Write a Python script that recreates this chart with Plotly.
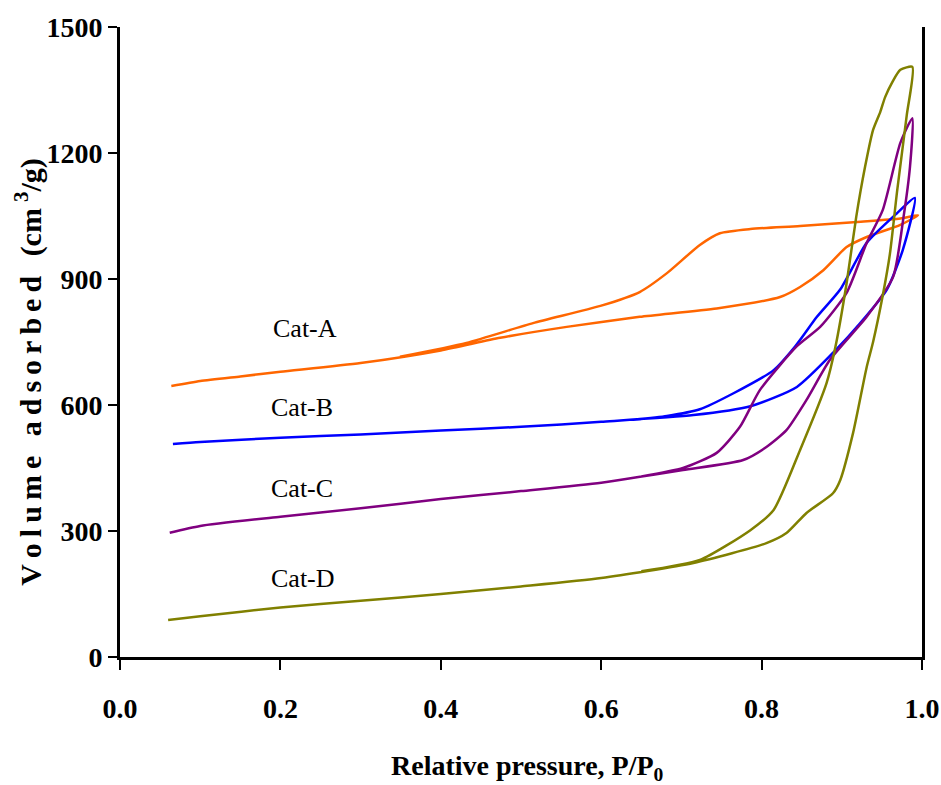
import plotly.graph_objects as go

# ---- data ----
cat_a_ads_x = [0.064, 0.1, 0.15, 0.2, 0.3, 0.4, 0.474, 0.557, 0.648, 0.744, 0.823, 0.848, 0.877, 0.906, 0.931, 0.973, 0.995]
cat_a_ads_y = [645, 657, 668, 679, 700, 730, 760, 786, 810, 830, 857, 881, 921, 976, 1000, 1029, 1052]
cat_a_des_x = [0.995, 0.973, 0.919, 0.848, 0.786, 0.748, 0.723, 0.682, 0.648, 0.599, 0.515, 0.432, 0.349]
cat_a_des_y = [1052, 1044, 1036, 1026, 1019, 1009, 981, 914, 869, 836, 795, 748, 715]

cat_b_ads_x = [0.066, 0.1, 0.2, 0.3, 0.4, 0.5, 0.6, 0.715, 0.786, 0.844, 0.892, 0.923, 0.956, 0.976, 0.991]
cat_b_ads_y = [507, 512, 522, 530, 539, 548, 560, 576, 597, 643, 730, 795, 874, 969, 1093]
cat_b_des_x = [0.991, 0.969, 0.931, 0.898, 0.869, 0.842, 0.815, 0.765, 0.723, 0.682, 0.64]
cat_b_des_y = [1093, 1057, 986, 875, 810, 740, 683, 628, 590, 574, 565]

cat_c_ads_x = [0.062, 0.1, 0.2, 0.3, 0.4, 0.5, 0.6, 0.702, 0.777, 0.806, 0.831, 0.856, 0.885, 0.931, 0.964, 0.977, 0.985, 0.988]
cat_c_ads_y = [296, 312, 334, 354, 376, 395, 415, 445, 469, 500, 540, 612, 707, 810, 905, 1048, 1167, 1283]
cat_c_des_x = [0.988, 0.973, 0.951, 0.931, 0.906, 0.873, 0.844, 0.798, 0.773, 0.744, 0.702, 0.65]
cat_c_des_y = [1283, 1224, 1064, 986, 867, 786, 740, 636, 548, 486, 450, 430]

cat_d_ads_x = [0.06, 0.1, 0.2, 0.3, 0.4, 0.5, 0.6, 0.715, 0.806, 0.831, 0.856, 0.889, 0.898, 0.914, 0.931, 0.939, 0.951, 0.96, 0.969, 0.981, 0.988]
cat_d_ads_y = [88, 97, 118, 134, 150, 168, 188, 224, 271, 295, 343, 390, 421, 533, 690, 750, 860, 960, 1110, 1290, 1405]
cat_d_des_x = [0.988, 0.973, 0.963, 0.954, 0.948, 0.939, 0.929, 0.918, 0.906, 0.892, 0.881, 0.848, 0.815, 0.786, 0.723, 0.65]
cat_d_des_y = [1408, 1398, 1369, 1333, 1298, 1255, 1167, 1048, 890, 738, 652, 493, 350, 302, 231, 204]

series_names = ["Cat-A", "Cat-B", "Cat-C", "Cat-D"]
x_ticks = [0.0, 0.2, 0.4, 0.6, 0.8, 1.0]
y_ticks = [0, 300, 600, 900, 1200, 1500]

# label anchor points (data coordinates)
label_x = [0.231, 0.227, 0.227, 0.228]
label_y = [783, 595, 402, 188]

colors = ["#FF6600", "#0000FF", "#800080", "#808000"]

series = [
    (cat_a_ads_x, cat_a_ads_y, cat_a_des_x, cat_a_des_y),
    (cat_b_ads_x, cat_b_ads_y, cat_b_des_x, cat_b_des_y),
    (cat_c_ads_x, cat_c_ads_y, cat_c_des_x, cat_c_des_y),
    (cat_d_ads_x, cat_d_ads_y, cat_d_des_x, cat_d_des_y),
]

fig = go.Figure()
for name, col, (ax_, ay_, dx_, dy_) in zip(series_names, colors, series):
    fig.add_trace(go.Scatter(
        x=ax_ + dx_[1:], y=ay_ + dy_[1:], mode="lines", name=name,
        line=dict(color=col, width=2.5, shape="spline", smoothing=0.6),
        showlegend=False,
    ))

font_fam = "Liberation Serif"

for name, lx, ly in zip(series_names, label_x, label_y):
    fig.add_annotation(x=lx, y=ly, text=name, showarrow=False,
                       font=dict(family=font_fam, size=26, color="black"),
                       xanchor="center", yanchor="middle")

ts = "\u2009"
ytitle = (ts.join("Volume") + ts + "\u00a0" + ts + ts.join("adsorbed")
          + ts + "\u00a0" + ts + "(cm" + ts + "<sup>3</sup>/g)")
# axis titles as paper annotations
fig.add_annotation(xref="paper", yref="paper", x=-0.114, y=0.452, text=ytitle,
                   textangle=-90, showarrow=False, xanchor="center", yanchor="middle",
                   font=dict(family=font_fam, size=30, weight="bold", color="black"))
fig.add_annotation(xref="paper", yref="paper", x=0.508, y=-0.176,
                   text="Relative pressure, P/P<sub>0</sub>",
                   showarrow=False, xanchor="center", yanchor="middle",
                   font=dict(family=font_fam, size=28, weight="bold", color="black"))

fig.update_layout(
    width=941, height=785,
    margin=dict(l=120, r=19, t=27, b=128),
    plot_bgcolor="white", paper_bgcolor="white",
    font=dict(family=font_fam, color="black"),
)
fig.update_xaxes(
    range=[0, 1], tickvals=x_ticks, tickformat=".1f", automargin=False,
    showline=True, linecolor="black", linewidth=3,
    ticks="outside", ticklen=10, tickwidth=2, tickcolor="black",
    ticklabelstandoff=14,
    tickfont=dict(family=font_fam, size=28, weight="bold"),
    showgrid=False, zeroline=False,
)
fig.update_yaxes(
    range=[0, 1500], tickvals=y_ticks, automargin=False,
    showline=True, linecolor="black", linewidth=3, mirror=True,
    ticks="outside", ticklen=9, tickwidth=2, tickcolor="black",
    tickfont=dict(family=font_fam, size=28, weight="bold"),
    showgrid=False, zeroline=False,
)

fig.write_html("out.html")
